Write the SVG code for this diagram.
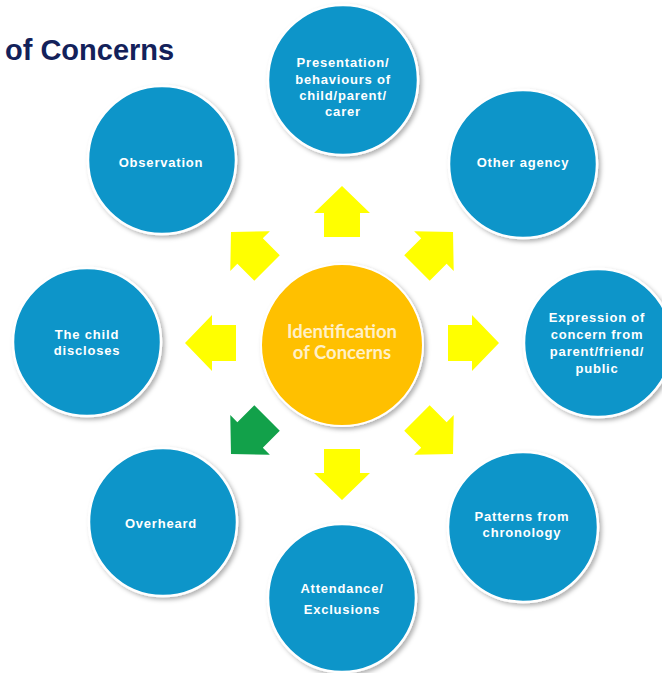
<svg xmlns="http://www.w3.org/2000/svg" width="662" height="673" viewBox="0 0 662 673">
<style>
  .node { fill: #0C95C9; stroke: #ffffff; stroke-width: 2.5; filter: url(#sh); }
  .hub { fill: #FFC000; stroke: #ffffff; stroke-width: 2; filter: url(#sh); }
  .lbl { font-family: "Liberation Sans", Arial, sans-serif; font-weight: bold; font-size: 13px; letter-spacing: 0.8px; fill: #ffffff; text-anchor: middle; }
  .hubl { font-family: Lato, "Open Sans", sans-serif; font-weight: bold; font-size: 18.5px; fill: #FFF0C8; text-anchor: middle; }
  .title { font-family: "Liberation Sans", Arial, sans-serif; font-weight: bold; font-size: 29px; fill: #13215A; }
  .arr { fill: #FFFF00; }
  .arr.g { fill: #12A14A; }
</style>
<defs>
  <filter id="sh" x="-20%" y="-20%" width="140%" height="140%">
    <feDropShadow dx="2.5" dy="2.5" stdDeviation="2" flood-color="#000000" flood-opacity="0.3"/>
  </filter>
  <path id="arrow" d="M0,-157 L28,-130 L18,-130 L18,-106 L-18,-106 L-18,-130 L-28,-130 Z"/>
</defs>
<rect width="662" height="673" fill="#ffffff"/>

<text class="title" x="5" y="60">of Concerns</text>

<g id="connectors">
  <use href="#arrow" class="arr" transform="translate(342,343) rotate(0)"/>
  <use href="#arrow" class="arr" transform="translate(342,343) rotate(45)"/>
  <use href="#arrow" class="arr" transform="translate(342,343) rotate(90)"/>
  <use href="#arrow" class="arr" transform="translate(342,343) rotate(135)"/>
  <use href="#arrow" class="arr" transform="translate(342,343) rotate(180)"/>
  <use href="#arrow" class="arr g" transform="translate(342,343) rotate(225)"/>
  <use href="#arrow" class="arr" transform="translate(342,343) rotate(270)"/>
  <use href="#arrow" class="arr" transform="translate(342,343) rotate(315)"/>
</g>

<g id="hub">
  <circle class="hub" cx="342" cy="345" r="81"/>
  <text class="hubl" x="342" y="338">Identification</text>
  <text class="hubl" x="342" y="359">of Concerns</text>
</g>

<g id="presentation">
  <circle class="node" cx="343" cy="80" r="75"/>
  <text class="lbl" x="343" y="67">Presentation/</text>
  <text class="lbl" x="343" y="84">behaviours of</text>
  <text class="lbl" x="343" y="100">child/parent/</text>
  <text class="lbl" x="343" y="116">carer</text>
</g>

<g id="other-agency">
  <circle class="node" cx="523" cy="164" r="74"/>
  <text class="lbl" x="523" y="167">Other agency</text>
</g>

<g id="expression">
  <circle class="node" cx="598" cy="343" r="74"/>
  <text class="lbl" x="597" y="322">Expression of</text>
  <text class="lbl" x="597" y="339">concern from</text>
  <text class="lbl" x="597" y="356">parent/friend/</text>
  <text class="lbl" x="597" y="373">public</text>
</g>

<g id="patterns">
  <circle class="node" cx="523" cy="527" r="75"/>
  <text class="lbl" x="522" y="521">Patterns from</text>
  <text class="lbl" x="522" y="537">chronology</text>
</g>

<g id="attendance">
  <circle class="node" cx="342" cy="598" r="74"/>
  <text class="lbl" x="342" y="593">Attendance/</text>
  <text class="lbl" x="342" y="614">Exclusions</text>
</g>

<g id="overheard">
  <circle class="node" cx="163" cy="522" r="74"/>
  <text class="lbl" x="161" y="528">Overheard</text>
</g>

<g id="child-discloses">
  <circle class="node" cx="87" cy="342" r="74"/>
  <text class="lbl" x="87" y="339">The child</text>
  <text class="lbl" x="87" y="355">discloses</text>
</g>

<g id="observation">
  <circle class="node" cx="162" cy="160" r="74"/>
  <text class="lbl" x="161" y="167">Observation</text>
</g>
</svg>
